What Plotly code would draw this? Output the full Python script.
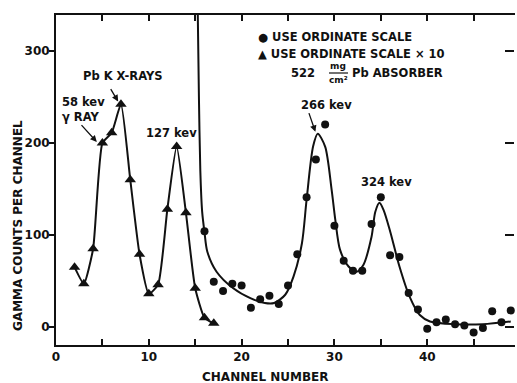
import plotly.graph_objects as go

# ---- data ----
# triangles: "use ordinate scale x 10"
tri_ch = [2, 3, 4, 5, 6, 7, 8, 9, 10, 11, 12, 13, 14, 15, 16, 17]
tri_counts = [65, 47, 85, 200, 211, 242, 160, 79, 36, 46, 128, 196, 124, 42, 10, 4]

# circles: "use ordinate scale"
cir_ch = [16, 17, 18, 19, 20, 21, 22, 23, 24, 25, 26, 27, 28, 29, 30, 31, 32, 33,
          34, 35, 36, 37, 38, 39, 40, 41, 42, 43, 44, 45, 46, 47, 48, 49]
cir_counts = [104, 49, 39, 47, 45, 21, 30, 34, 25, 45, 79, 141, 182, 220, 110, 72, 61, 61,
              112, 141, 78, 76, 37, 19, -2, 5, 8, 3, 1.5, -6, -1, 17, 5, 18]

# smooth curve drawn through the circle data
fit_ch = [15.25, 15.4, 15.55, 15.75, 16.0, 16.3, 17.3, 19.1, 21.0, 22.5, 23.5, 24.7, 25.6,
          26.5, 27.0, 27.7, 28.2, 29.0, 29.7, 30.1, 30.6, 31.5, 32.4, 33.1, 34.0, 34.4,
          34.85, 35.3, 36.0, 37.0, 38.1, 39.2, 40.3, 43.0, 46.0, 49.0]
fit_counts = [360, 250, 170, 125, 103, 82, 60, 42, 31, 26, 26, 35, 55,
              91, 138, 196, 210, 196, 149, 116, 84, 66, 60, 67, 98, 125,
              135, 127, 104, 66, 33, 13, 6, 3, 3, 6]

x_tickvals = [0, 5, 10, 15, 20, 25, 30, 35, 40, 45, 50]
x_ticktext = ["0", "", "10", "", "20", "", "30", "", "40", "", "50"]
y_tickvals = [0, 100, 200, 300]
y_ticktext = ["0", "100", "200", "300"]

FONT = "DejaVu Sans"
INK = "#111111"
Y_RANGE = [-19.6, 339]
X_RANGE = [0, 49.35]

fig = go.Figure()
fig.add_trace(go.Scatter(x=fit_ch, y=fit_counts, mode="lines",
                         line=dict(color=INK, width=2, shape="spline", smoothing=0.8),
                         showlegend=False, hoverinfo="skip"))
fig.add_trace(go.Scatter(x=tri_ch, y=tri_counts, mode="lines+markers",
                         line=dict(color=INK, width=2, shape="spline", smoothing=0.5),
                         marker=dict(symbol="triangle-up", size=10, color=INK),
                         name="USE ORDINATE SCALE × 10", showlegend=False))
# circles plotted against the right-hand (same-scale) axis so its inside ticks are drawn
fig.add_trace(go.Scatter(x=cir_ch, y=cir_counts, mode="markers", yaxis="y2",
                         marker=dict(symbol="circle", size=8, color=INK),
                         cliponaxis=False,
                         name="USE ORDINATE SCALE", showlegend=False))

tf = dict(family=FONT, size=11.5, color=INK, weight="bold")

ann = []
# peak labels
ann.append(dict(x=7.17, y=273, text="Pb K X-RAYS", showarrow=False, font=tf,
                xanchor="center", yanchor="middle"))
ann.append(dict(x=0.43, y=236, text="58 kev<br>γ RAY", showarrow=False, font=tf,
                xanchor="left", yanchor="middle", align="left"))
ann.append(dict(x=12.45, y=211, text="127 kev", showarrow=False, font=tf,
                xanchor="center", yanchor="middle"))
ann.append(dict(x=29.15, y=241, text="266 kev", showarrow=False, font=tf,
                xanchor="center", yanchor="middle"))
ann.append(dict(x=35.6, y=157, text="324 kev", showarrow=False, font=tf,
                xanchor="center", yanchor="middle"))
# arrows
for (hx, hy, tx, ty) in [(6.7, 245, 5.8, 260), (4.4, 201, 2.6, 221), (27.95, 212, 27.2, 234)]:
    ann.append(dict(x=hx, y=hy, ax=tx, ay=ty, axref="x", ayref="y", text="",
                    showarrow=True, arrowhead=2, arrowsize=1, arrowwidth=1.3,
                    arrowcolor=INK))
# legend block (paper coords from pixels)
L, R, T, B = 56, 514, 15, 345
def px(xp):
    return (xp - L) / (R - L)
def py(yp):
    return (B - yp) / (B - T)
small = dict(family=FONT, size=9, color=INK, weight="bold")
ann.append(dict(xref="paper", yref="paper", x=px(256), y=py(37), text="● USE ORDINATE SCALE",
                showarrow=False, xanchor="left", yanchor="middle", font=tf))
ann.append(dict(xref="paper", yref="paper", x=px(256), y=py(54), text="▲ USE ORDINATE SCALE × 10",
                showarrow=False, xanchor="left", yanchor="middle", font=tf))
ann.append(dict(xref="paper", yref="paper", x=px(317), y=py(73), text="522",
                showarrow=False, xanchor="right", yanchor="middle", font=tf))
ann.append(dict(xref="paper", yref="paper", x=px(338), y=py(66), text="mg",
                showarrow=False, xanchor="center", yanchor="middle", font=small))
ann.append(dict(xref="paper", yref="paper", x=px(338), y=py(80), text="cm²",
                showarrow=False, xanchor="center", yanchor="middle", font=small))
ann.append(dict(xref="paper", yref="paper", x=px(350), y=py(73), text="Pb ABSORBER",
                showarrow=False, xanchor="left", yanchor="middle", font=tf))
# axis titles
ann.append(dict(xref="paper", yref="paper", x=px(265), y=py(377), text="CHANNEL NUMBER",
                showarrow=False, xanchor="center", yanchor="middle",
                font=dict(family=FONT, size=12, color=INK, weight="bold")))
ann.append(dict(xref="paper", yref="paper", x=px(18), y=py(226), text="GAMMA COUNTS PER CHANNEL",
                showarrow=False, textangle=-90, xanchor="center", yanchor="middle",
                font=dict(family=FONT, size=12, color=INK, weight="bold")))

fig.update_layout(
    width=517, height=383,
    margin=dict(l=L, r=517 - R, t=T, b=383 - B),
    paper_bgcolor="white", plot_bgcolor="white",
    font=dict(family=FONT, size=12, color=INK),
    annotations=ann,
    shapes=[dict(type="line", xref="paper", yref="paper", x0=px(329), x1=px(348),
                 y0=py(73), y1=py(73), line=dict(color=INK, width=1.2))],
    xaxis=dict(range=X_RANGE, tickvals=x_tickvals, ticktext=x_ticktext,
               ticks="inside", ticklen=6, tickwidth=1.5, tickcolor=INK,
               showline=True, linewidth=2, linecolor=INK, mirror="ticks",
               showgrid=False, zeroline=False,
               tickfont=dict(family=FONT, size=12, color=INK, weight="bold")),
    yaxis=dict(range=Y_RANGE, tickvals=y_tickvals, ticktext=y_ticktext,
               ticks="outside", ticklen=5, tickwidth=1.5, tickcolor=INK,
               ticklabelstandoff=-3,
               showline=True, linewidth=2, linecolor=INK,
               showgrid=False, zeroline=False,
               tickfont=dict(family=FONT, size=12, color=INK, weight="bold")),
    yaxis2=dict(range=Y_RANGE, overlaying="y", side="right", anchor="x",
                tickmode="array", tickvals=y_tickvals, ticktext=y_ticktext,
                ticks="inside", ticklen=9, tickwidth=1.5, tickcolor=INK,
                showticklabels=False, showline=True, linecolor="rgba(0,0,0,0)",
                linewidth=1, showgrid=False, zeroline=False),
)

fig.write_html("out.html")
